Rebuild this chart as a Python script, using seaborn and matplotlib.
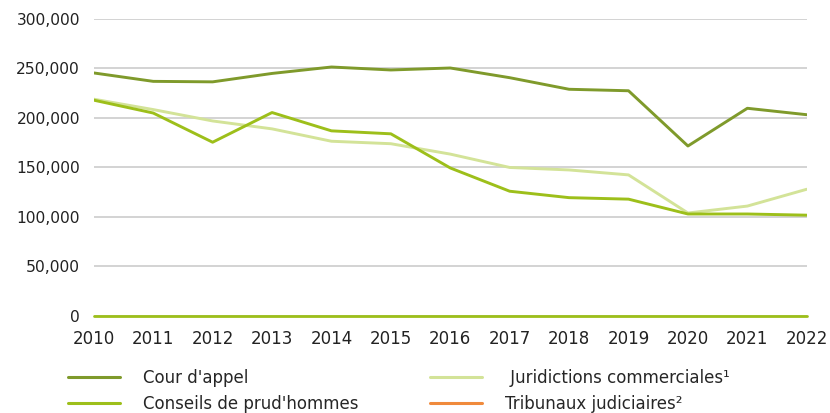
import pandas as pd
import numpy as np
import matplotlib.pyplot as plt
import seaborn as sns
from matplotlib.ticker import FuncFormatter
from matplotlib.lines import Line2D

# -----------------------------
# DATA
# -----------------------------
years = list(range(2010, 2023))
cour_appel = [245500, 237000, 236500, 245000, 251500, 248500, 250500, 240700, 229000, 227500, 171700, 209800, 203300]
prudhommes = [218000, 205000, 175500, 205500, 187000, 184000, 149500, 126000, 119500, 118000, 103000, 103000, 101800]
jur_commerciales = [219000, 208500, 197000, 189000, 176500, 174000, 163500, 150000, 147500, 142500, 104000, 111000, 128000]

legend_col1 = ["Cour d'appel", "Conseils de prud'hommes"]
legend_col2 = [" Juridictions commerciales\u00b9", "Tribunaux judiciaires\u00b2"]
colors = {"Cour d'appel": "#7f9a2b",
          "Conseils de prud'hommes": "#9dbf1a",
          " Juridictions commerciales\u00b9": "#d3e398",
          "Tribunaux judiciaires\u00b2": "#f08a3c"}

df = pd.DataFrame({
    "year": years * 3,
    "value": cour_appel + prudhommes + jur_commerciales,
    "series": (["Cour d'appel"] * len(years)
               + ["Conseils de prud'hommes"] * len(years)
               + [" Juridictions commerciales\u00b9"] * len(years)),
})

# -----------------------------
# PLOT
# -----------------------------
sns.set_style("white")
plt.rcParams['font.family'] = ['DejaVu Sans']

fig = plt.figure(figsize=(8.3, 4.13), dpi=100)
ax = fig.add_axes([0.113, 0.235, 0.859, 0.719])

sns.lineplot(data=df, x="year", y="value", hue="series",
             palette=colors, linewidth=2.1, legend=False, ax=ax, zorder=3,
             hue_order=[" Juridictions commerciales\u00b9", "Conseils de prud'hommes", "Cour d'appel"])
# baseline at zero drawn in green
ax.axhline(0, color="#9dbf1a", lw=2, zorder=2.5, clip_on=False)

ax.set_xlim(2010, 2022)
ax.set_ylim(0, 300000)
ax.set_yticks(np.arange(0, 300001, 50000))
ax.set_xticks(years)
ax.yaxis.set_major_formatter(FuncFormatter(lambda v, p: f"{int(v):,}"))
ax.grid(axis="y", color="#cccccc", lw=1.2)
ax.set_axisbelow(True)
for s in ax.spines.values():
    s.set_visible(False)
ax.tick_params(axis="both", length=0, labelsize=12, colors="#222222")
ax.tick_params(axis="x", pad=10)
ax.tick_params(axis="y", pad=10, labelsize=11.2)
ax.set_xlabel("")
ax.set_ylabel("")

# two legend columns placed separately
for names, x0 in [(legend_col1, 68 / 830), (legend_col2, 430 / 830)]:
    handles = [Line2D([], [], color=colors[n], lw=2.2) for n in names]
    leg = fig.legend(handles, names, loc="center left",
                     bbox_to_anchor=(x0, 1 - 391 / 413),
                     frameon=False, fontsize=12, handlelength=3.1,
                     handletextpad=1.4, labelspacing=0.45,
                     borderpad=0, borderaxespad=0)

plt.savefig("out.png", dpi=100)
